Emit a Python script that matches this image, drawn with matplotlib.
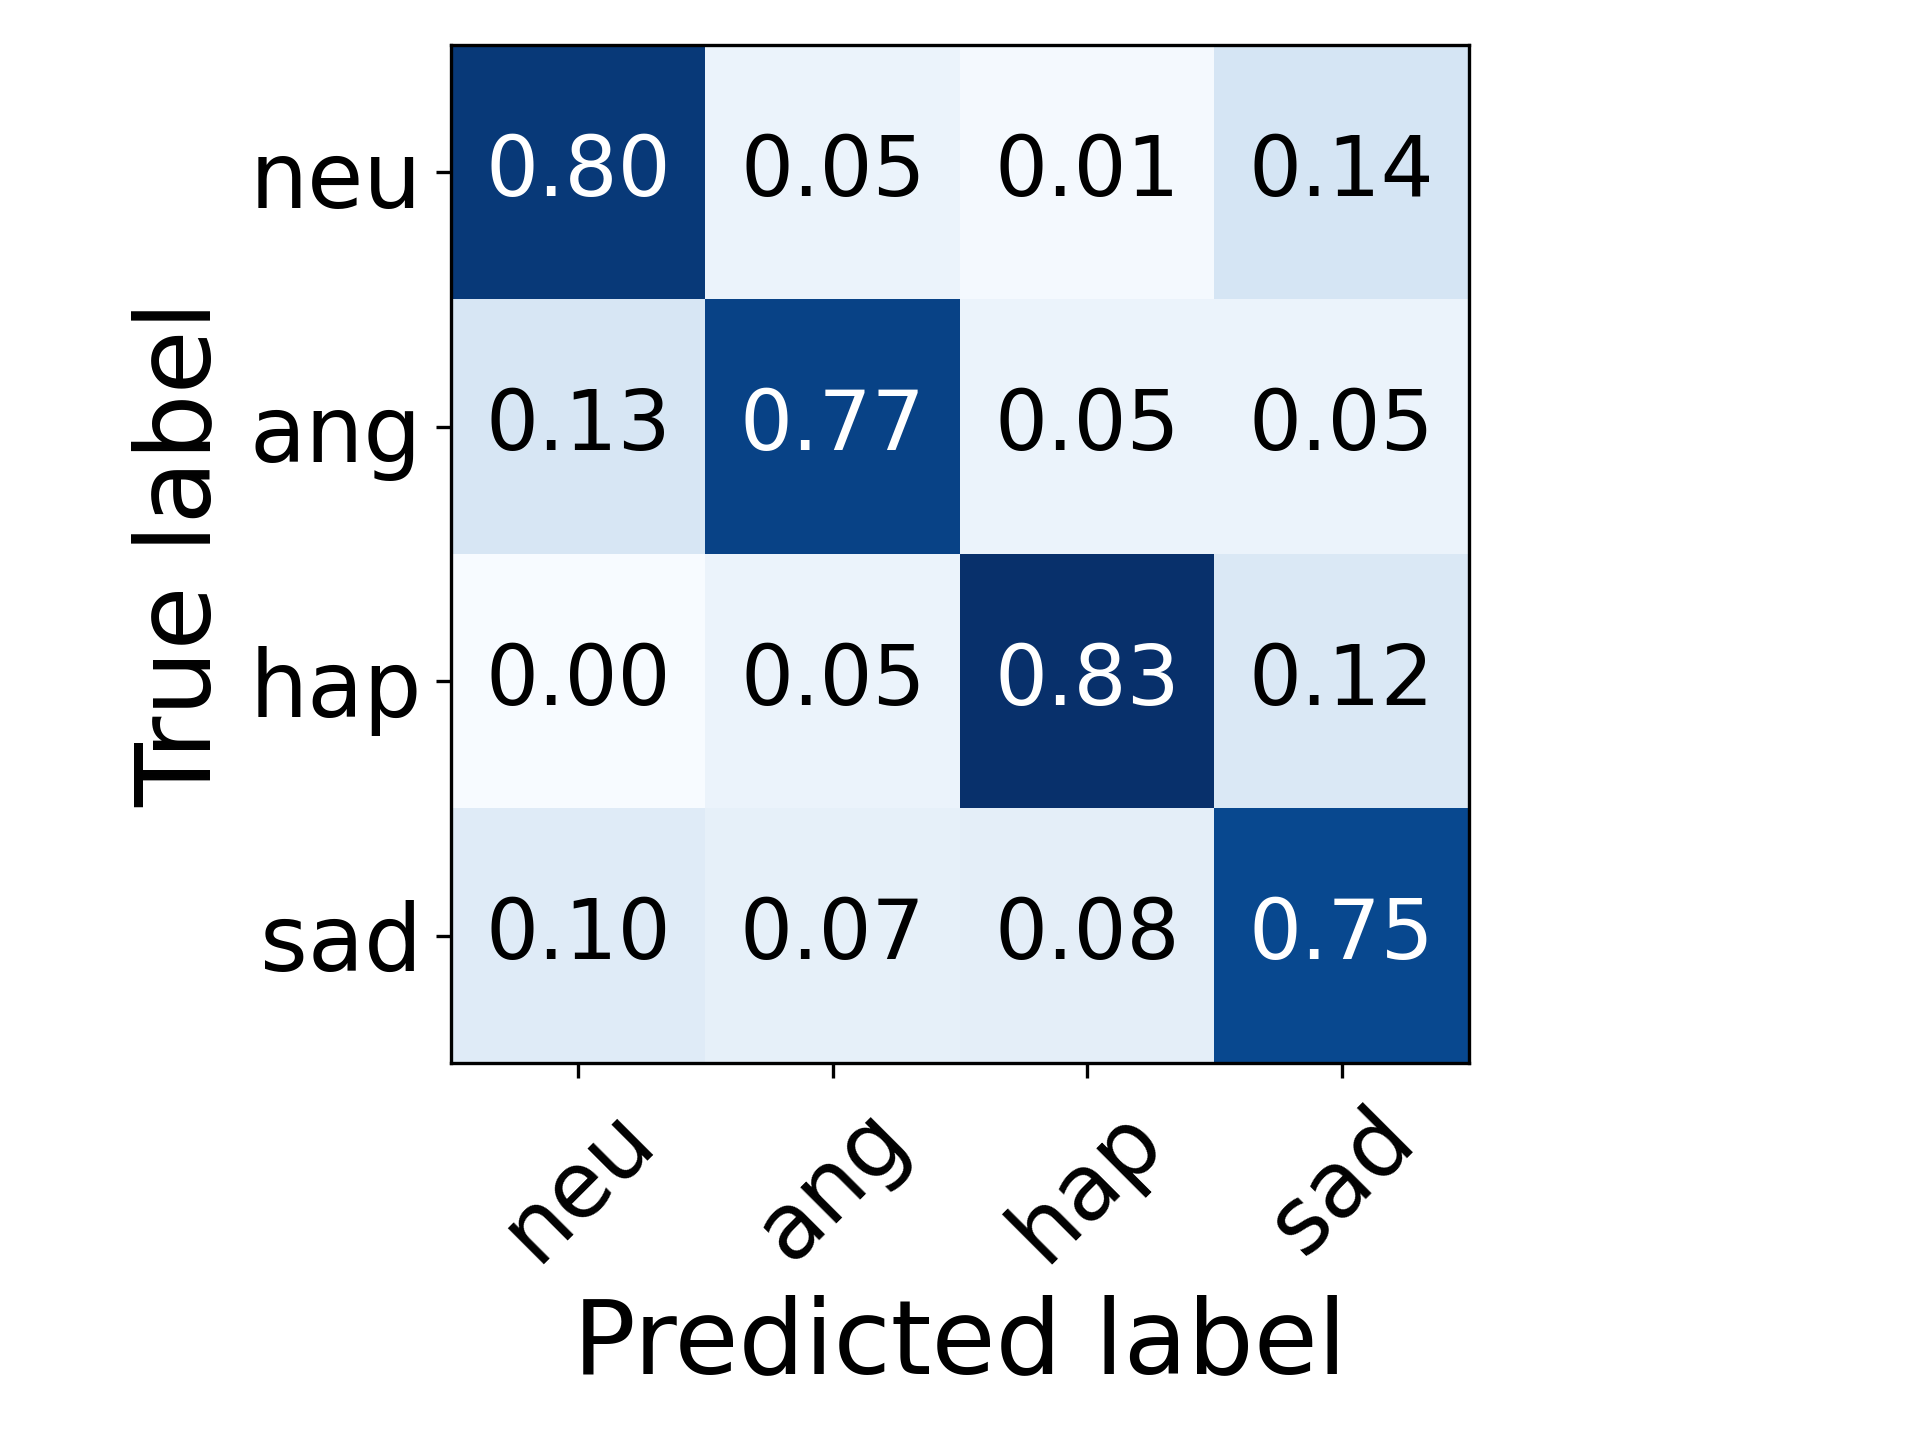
import numpy as np
import matplotlib.pyplot as plt

classes = ["neu", "ang", "hap", "sad"]
row_neu = [0.80, 0.05, 0.01, 0.14]
row_ang = [0.13, 0.77, 0.05, 0.05]
row_hap = [0.00, 0.05, 0.83, 0.12]
row_sad = [0.10, 0.07, 0.08, 0.75]

cm = np.array([row_neu, row_ang, row_hap, row_sad])

fig = plt.figure(figsize=(6.4, 4.8), dpi=300)
ax = fig.add_axes([451 / 1920, 1 - 1063 / 1440, 1018 / 1920, 1018 / 1440])
ax.imshow(cm, interpolation="nearest", cmap=plt.cm.Blues)

tick_marks = np.arange(len(classes))
ax.set_xticks(tick_marks)
ax.set_xticklabels(classes, rotation=45, fontsize=22)
ax.set_yticks(tick_marks)
ax.set_yticklabels(classes, fontsize=22)

thresh = cm.max() / 2.0
for i in range(cm.shape[0]):
    for j in range(cm.shape[1]):
        ax.text(j, i, format(cm[i, j], ".2f"),
                ha="center", va="center", fontsize=20,
                color="white" if cm[i, j] > thresh else "black")

ax.set_ylabel("True label", fontsize=25)
ax.set_xlabel("Predicted label", fontsize=25)

fig.savefig("out.png", dpi=300)
